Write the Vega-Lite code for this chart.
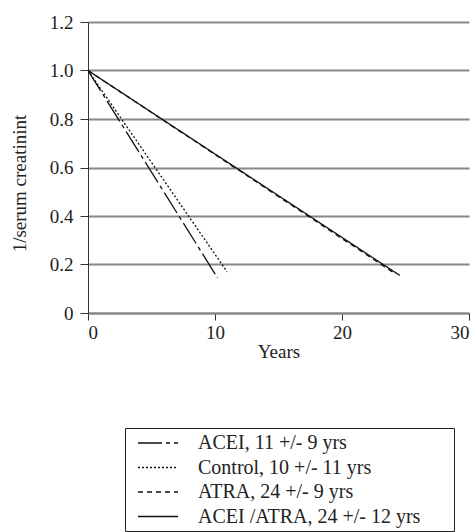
{
  "$schema": "https://vega.github.io/schema/vega-lite/v6.json",
  "autosize": {"type": "none"},
  "width": 381,
  "height": 291,
  "padding": {"left": 88, "top": 22, "right": 7, "bottom": 219},
  "background": "white",
  "config": {
    "font": "Liberation Serif",
    "view": {"stroke": null},
    "axis": {"labelFont": "Liberation Serif", "titleFont": "Liberation Serif", "labelFontSize": 19, "titleFontSize": 19, "labelColor": "#222", "titleColor": "#222", "titleFontWeight": "normal"}
  },
  "data": {
    "values": [
      {"series": "ACEI, 11 +/- 9 yrs", "years": 0, "value": 1.0},
      {"series": "ACEI, 11 +/- 9 yrs", "years": 10.2, "value": 0.145},
      {"series": "Control, 10 +/- 11 yrs", "years": 0, "value": 1.0},
      {"series": "Control, 10 +/- 11 yrs", "years": 10.95, "value": 0.17},
      {"series": "ATRA, 24 +/- 9 yrs", "years": 0, "value": 1.0},
      {"series": "ATRA, 24 +/- 9 yrs", "years": 24.1, "value": 0.165},
      {"series": "ACEI /ATRA, 24 +/- 12 yrs", "years": 0, "value": 1.0},
      {"series": "ACEI /ATRA, 24 +/- 12 yrs", "years": 24.55, "value": 0.155}
    ]
  },
  "mark": {"type": "line", "color": "#111", "strokeWidth": 1.3, "clip": true},
  "encoding": {
    "x": {
      "field": "years", "type": "quantitative",
      "scale": {"domain": [0, 30], "nice": false},
      "axis": {"values": [0, 10, 20, 30], "title": "Years", "grid": false, "domainColor": "#888", "domainWidth": 2, "tickColor": "#333", "tickSize": 7, "labelPadding": 3, "titlePadding": 0}
    },
    "y": {
      "field": "value", "type": "quantitative",
      "scale": {"domain": [0, 1.2], "nice": false},
      "axis": {"values": [0, 0.2, 0.4, 0.6, 0.8, 1.0, 1.2], "labelExpr": "datum.value == 0 ? '0' : format(datum.value, '.1f')", "title": "1/serum creatinint", "titleY": 161, "grid": true, "gridColor": "#888", "gridWidth": 2, "domainColor": "#333", "domainWidth": 1, "tickColor": "#333", "tickSize": 8, "labelPadding": 7, "titlePadding": 20}
    },
    "strokeDash": {
      "field": "series", "type": "nominal",
      "scale": {
        "domain": ["ACEI, 11 +/- 9 yrs", "Control, 10 +/- 11 yrs", "ATRA, 24 +/- 9 yrs", "ACEI /ATRA, 24 +/- 12 yrs"],
        "range": [[24, 4, 4, 4], [2, 2], [5, 4], [1, 0]]
      },
      "legend": {
        "title": " ",
        "titleOrient": "right",
        "titlePadding": 30,
        "orient": "none",
        "legendX": 37,
        "legendY": 406,
        "strokeColor": "#222",
        "padding": 4,
        "symbolType": "M-1,0H3",
        "symbolSize": 400,
        "symbolOffset": 8,
        "symbolStrokeWidth": 1.3,
        "symbolStrokeColor": "#111",
        "labelFont": "Liberation Serif",
        "labelFontSize": 20,
        "labelColor": "#222",
        "labelOffset": 39,
        "rowPadding": 3.5,
        "labelLimit": 400
      }
    }
  }
}
